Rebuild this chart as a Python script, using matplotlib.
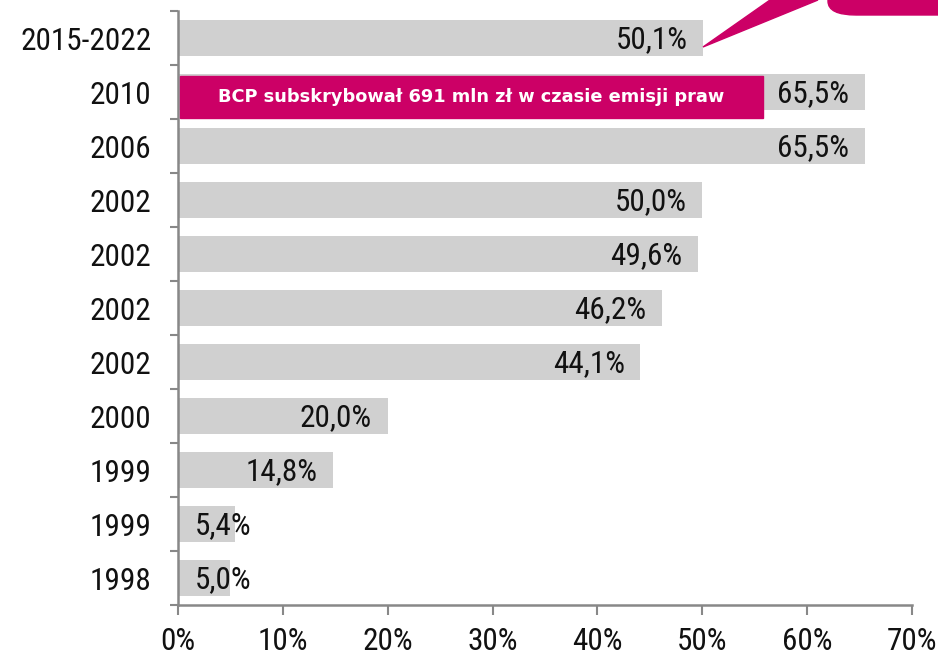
import matplotlib
matplotlib.use("Agg")
import matplotlib.pyplot as plt
from matplotlib.patches import FancyBboxPatch, Polygon, Rectangle
from matplotlib import font_manager
from matplotlib.font_manager import FontProperties

years = ["2015-2022", "2010", "2006", "2002", "2002", "2002", "2002", "2000", "1999", "1999", "1998"]
values = [50.1, 65.5, 65.5, 50.0, 49.6, 46.2, 44.1, 20.0, 14.8, 5.4, 5.0]
labels = ["50,1%", "65,5%", "65,5%", "50,0%", "49,6%", "46,2%", "44,1%", "20,0%", "14,8%", "5,4%", "5,0%"]
xticks = [0, 10, 20, 30, 40, 50, 60, 70]
note_text = "BCP subskrybował 691 mln zł w czasie emisji praw"
note_extent = 55.8

# find a narrow, upright, regular font
narrow_path = None
for f in font_manager.fontManager.ttflist:
    if f.name in ("Liberation Sans Narrow", "Roboto Condensed", "Open Sans Condensed", "DejaVu Sans Condensed") \
            and f.style == "normal" and f.weight in (400, "normal", "regular"):
        narrow_path = f.fname
        break
if narrow_path is None:
    p = font_manager.findfont(FontProperties(family="DejaVu Sans", stretch="condensed"))
    if "Condensed" in p:
        narrow_path = p
if narrow_path is not None:
    fp = FontProperties(fname=narrow_path, size=22.5)
else:
    fp = FontProperties(family="DejaVu Sans", size=17)

W, H = 938, 657
fig = plt.figure(figsize=(W / 100, H / 100), dpi=100)
ax = fig.add_axes([178 / W, 52 / H, (912 - 178) / W, (605 - 11) / H])

pos = list(range(len(years)))
ax.barh(pos, values, height=0.67, color="#D0D0D0", zorder=2)
for p, v, lab in zip(pos, values, labels):
    if v < 10:
        ax.text(1.6, p + 0.03, lab, ha="left", va="center", fontproperties=fp, color="#111111", zorder=4)
    else:
        ax.text(v - 1.5, p + 0.03, lab, ha="right", va="center", fontproperties=fp, color="#111111", zorder=4)

# magenta note box
ax.add_patch(Rectangle((0.15, 1.09 - 0.39), note_extent - 0.15, 0.78, color="#CC0066", zorder=3))
ax.text(note_extent / 2 + 0.1, 1.09, note_text, ha="center", va="center", fontsize=12.8,
        color="white", fontweight="bold", zorder=4, family=["DejaVu Sans"])

ax.set_xlim(0, 70)
ax.set_ylim(10.5, -0.5)
ax.set_xticks(xticks)
ax.set_xticklabels([f"{t}%" for t in xticks])
ax.set_yticks(pos)
ax.set_yticklabels(years)
for t in ax.get_xticklabels() + ax.get_yticklabels():
    t.set_fontproperties(fp)
    t.set_color("#111111")
ax.set_yticks([p - 0.5 for p in range(len(years) + 1)], minor=True)
ax.tick_params(axis="y", which="major", length=0, pad=19)
ax.tick_params(axis="y", which="minor", length=6, color="#888888", width=1.5)
ax.tick_params(axis="x", length=7, color="#888888", width=1.5, pad=9)

for s in ["top", "right"]:
    ax.spines[s].set_visible(False)
for s in ["left", "bottom"]:
    ax.spines[s].set_color("#888888")
    ax.spines[s].set_linewidth(1.8)

# callout at top right (partially cut off)
tri = Polygon([(703 / W, 1 - 47 / H), (770 / W, 1.0), (818 / W, 1.0)], closed=True,
              transform=fig.transFigure, color="#CC0066", zorder=5)
fig.patches.append(tri)
box = FancyBboxPatch((828 / W, 1 - 15 / H), 200 / W, 60 / H,
                     boxstyle="round,pad=0,rounding_size=0.03",
                     transform=fig.transFigure, color="#CC0066", zorder=5, mutation_aspect=H / W)
fig.patches.append(box)

fig.savefig("out.png", dpi=100)
